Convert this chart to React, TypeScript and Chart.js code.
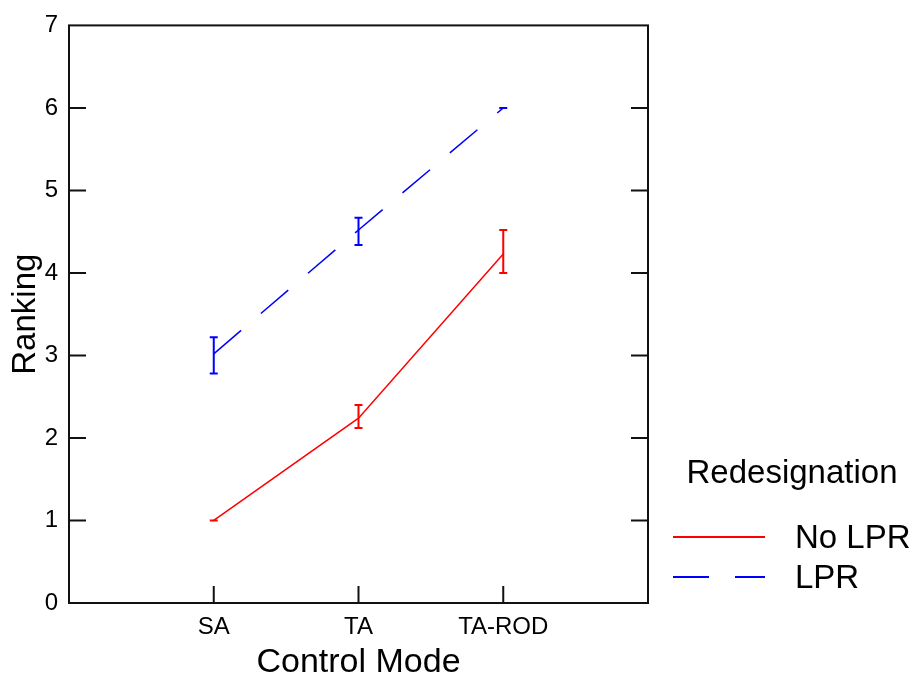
import React, { useEffect, useRef } from 'react';
import { Chart, registerables } from 'chart.js';

Chart.register(...registerables);

// ---- data ----
const categories = ['SA', 'TA', 'TA-ROD'];
const yTickValues = [0, 1, 2, 3, 4, 5, 6, 7];
const seriesNames = ['No LPR', 'LPR'];
const noLprValues = [1.0, 2.24, 4.23];
const noLprLow = [1.0, 2.12, 4.0];
const noLprHigh = [1.0, 2.4, 4.52];
const lprValues = [3.02, 4.52, 6.0];
const lprLow = [2.78, 4.34, 6.0];
const lprHigh = [3.22, 4.67, 6.0];
const legendTitle = 'Redesignation';
const xTitle = 'Control Mode';
const yTitle = 'Ranking';

const FONT = '"Liberation Sans", Arial, sans-serif';

const errorBarPlugin = {
  id: 'errorBars',
  afterDatasetsDraw(chart: any) {
    const { ctx, scales } = chart;
    const xs = scales.x;
    const ys = scales.y;
    chart.data.datasets.forEach((ds: any) => {
      if (!ds.errLow) return;
      ctx.save();
      ctx.strokeStyle = ds.borderColor;
      ctx.lineWidth = 2;
      ctx.setLineDash([]);
      ds.errLow.forEach((lo: number, i: number) => {
        const hi = ds.errHigh[i];
        const x = xs.getPixelForValue(i + 1);
        const yl = ys.getPixelForValue(lo);
        const yh = ys.getPixelForValue(hi);
        const cw = 4;
        ctx.beginPath();
        ctx.moveTo(x, yl);
        ctx.lineTo(x, yh);
        ctx.moveTo(x - cw, yl);
        ctx.lineTo(x + cw, yl);
        ctx.moveTo(x - cw, yh);
        ctx.lineTo(x + cw, yh);
        ctx.stroke();
      });
      ctx.restore();
    });
  },
};

const framePlugin = {
  id: 'frameTicks',
  afterDraw(chart: any) {
    const { ctx, chartArea: a, scales } = chart;
    const xs = scales.x;
    const ys = scales.y;
    const tl = 17;
    ctx.save();
    ctx.strokeStyle = '#111';
    ctx.lineWidth = 2;
    ctx.setLineDash([]);
    ctx.strokeRect(a.left, a.top, a.right - a.left, a.bottom - a.top);
    ctx.beginPath();
    yTickValues.forEach((v) => {
      if (v === ys.min || v === ys.max) return;
      const y = ys.getPixelForValue(v);
      ctx.moveTo(a.left, y);
      ctx.lineTo(a.left + tl, y);
      ctx.moveTo(a.right, y);
      ctx.lineTo(a.right - tl, y);
    });
    categories.forEach((_, i) => {
      const x = xs.getPixelForValue(i + 1);
      ctx.moveTo(x, a.bottom);
      ctx.lineTo(x, a.bottom - tl);
    });
    ctx.stroke();
    ctx.restore();
  },
};

const legendPlugin = {
  id: 'sideLegend',
  afterDraw(chart: any) {
    const { ctx } = chart;
    ctx.save();
    ctx.fillStyle = '#000';
    ctx.font = `33px ${FONT}`;
    ctx.textAlign = 'center';
    ctx.textBaseline = 'alphabetic';
    ctx.fillText(legendTitle, 792, 483);
    const rows = [548, 588];
    chart.data.datasets.forEach((ds: any, i: number) => {
      const base = rows[i];
      const ly = base - 11;
      ctx.strokeStyle = ds.borderColor;
      ctx.lineWidth = 2;
      ctx.setLineDash(ds.borderDash || []);
      ctx.beginPath();
      ctx.moveTo(673, ly);
      ctx.lineTo(765, ly);
      ctx.stroke();
      ctx.setLineDash([]);
      ctx.font = `33px ${FONT}`;
      ctx.textAlign = 'left';
      ctx.fillText(ds.label, 795, base);
    });
    ctx.restore();
  },
};

export default function App() {
  const ref = useRef<HTMLCanvasElement>(null);
  useEffect(() => {
    if (!ref.current) return;
    const chart = new Chart(ref.current, {
      type: 'line',
      data: {
        datasets: [
          {
            label: seriesNames[0],
            data: noLprValues.map((v, i) => ({ x: i + 1, y: v })),
            borderColor: '#ff0000',
            backgroundColor: '#ff0000',
            borderWidth: 1.5,
            pointRadius: 0,
            tension: 0,
            errLow: noLprLow,
            errHigh: noLprHigh,
          } as any,
          {
            label: seriesNames[1],
            data: lprValues.map((v, i) => ({ x: i + 1, y: v })),
            borderColor: '#0000ff',
            backgroundColor: '#0000ff',
            borderWidth: 1.5,
            borderDash: [36, 26],
            pointRadius: 0,
            tension: 0,
            errLow: lprLow,
            errHigh: lprHigh,
          } as any,
        ],
      },
      options: {
        animation: false,
        responsive: true,
        maintainAspectRatio: false,
        layout: { padding: { top: 22, right: 272, left: 0, bottom: 0 } },
        plugins: { legend: { display: false }, tooltip: { enabled: false } },
        scales: {
          x: {
            type: 'linear',
            min: 0,
            max: 4,
            afterFit: (s: any) => { s.height = 80; },
            afterBuildTicks: (s: any) => {
              s.ticks = [0, 1, 2, 3, 4].map((v) => ({ value: v }));
            },
            grid: { display: false, drawTicks: false },
            border: { display: false },
            ticks: {
              padding: 10,
              color: '#000',
              font: { family: FONT, size: 24 },
              callback: (v: any) => categories[Number(v) - 1] ?? '',
              maxRotation: 0,
              autoSkip: false,
            },
            title: {
              display: true,
              text: xTitle,
              color: '#000',
              font: { family: FONT, size: 34 },
              padding: { top: 0, bottom: 0 },
            },
          },
          y: {
            type: 'linear',
            min: 0,
            max: 7,
            afterFit: (s: any) => { s.width = 69; },
            afterBuildTicks: (s: any) => {
              s.ticks = yTickValues.map((v) => ({ value: v }));
            },
            grid: { display: false, drawTicks: false },
            border: { display: false },
            ticks: {
              padding: 11,
              color: '#000',
              font: { family: FONT, size: 24 },
            },
            title: {
              display: true,
              text: yTitle,
              color: '#000',
              font: { family: FONT, size: 33 },
              padding: { top: 6, bottom: 0 },
            },
          },
        },
      },
      plugins: [errorBarPlugin, framePlugin, legendPlugin],
    });
    return () => chart.destroy();
  }, []);
  return (
    <div style={{ position: 'fixed', left: 0, top: 0, width: 920, height: 683, background: '#fff' }}>
      <canvas ref={ref} />
    </div>
  );
}
